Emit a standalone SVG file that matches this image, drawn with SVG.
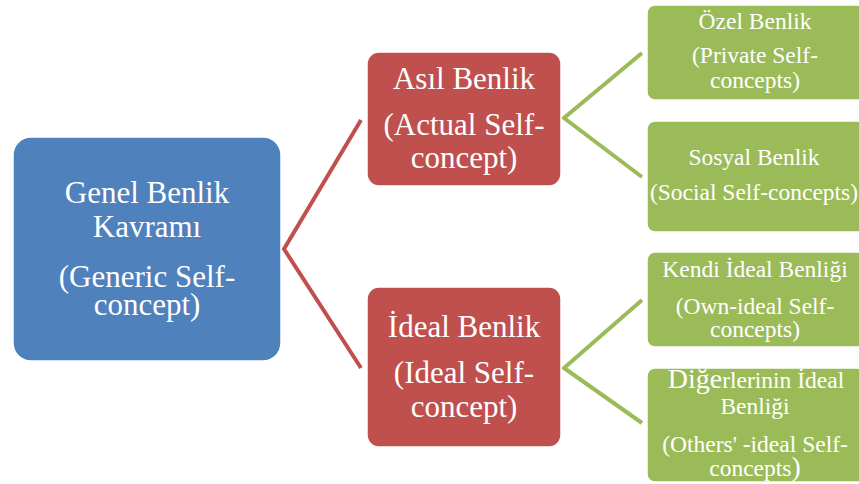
<svg xmlns="http://www.w3.org/2000/svg" width="859" height="484" viewBox="0 0 859 484">
<style>
.blue{fill:#4F81BD;stroke:#fff;stroke-width:1.5}
.red{fill:#C0504D;stroke:#fff;stroke-width:1.5}
.green{fill:#9BBB59;stroke:#fff;stroke-width:1.5}
.lbl{font-family:'Liberation Serif','Times New Roman','DejaVu Serif',serif;fill:#fff;text-anchor:middle}
.t1{font-size:31px}
.t2{font-size:31px}
.t3{font-size:23.5px}
.rc{fill:none;stroke:#C0504D;stroke-width:4}
.gc{fill:none;stroke:#9BBB59;stroke-width:4}
</style>
<rect width="859" height="484" fill="#fff"/>
<g id="connectors">
<polyline class="rc" points="361,120 284,249 361,368"/>
<polyline class="gc" points="642,53 564,118 642,177"/>
<polyline class="gc" points="642,300 564,368 642,423"/>
</g>
<g id="generic" class="lbl">
<rect class="blue" x="13" y="137" width="268" height="224" rx="18"/>
<text class="t1" x="147" y="203">Genel Benlik</text>
<text class="t1" x="147" y="237">Kavramı</text>
<text class="t1" x="147" y="287">(Generic Self-</text>
<text class="t1" x="147" y="315">concept)</text>
</g>
<g id="actual" class="lbl">
<rect class="red" x="367" y="52" width="194" height="134" rx="12"/>
<text class="t2" x="464" y="89">Asıl Benlik</text>
<text class="t2" x="464" y="135">(Actual Self-</text>
<text class="t2" x="464" y="168">concept)</text>
</g>
<g id="ideal" class="lbl">
<rect class="red" x="367" y="287" width="194" height="160" rx="12"/>
<text class="t2" x="464" y="337">İdeal Benlik</text>
<text class="t2" x="464" y="383">(Ideal Self-</text>
<text class="t2" x="464" y="417">concept)</text>
</g>
<g id="private" class="lbl">
<rect class="green" x="647" y="5" width="218" height="95" rx="8"/>
<text class="t3" x="755" y="29">Özel Benlik</text>
<text class="t3" x="755" y="63">(Private Self-</text>
<text class="t3" x="755" y="88">concepts)</text>
</g>
<g id="social" class="lbl">
<rect class="green" x="647" y="121" width="218" height="111" rx="8"/>
<text class="t3" x="754" y="165">Sosyal Benlik</text>
<text class="t3" x="754" y="200">(Social Self-concepts)</text>
</g>
<g id="own-ideal" class="lbl">
<rect class="green" x="647" y="252" width="218" height="95" rx="8"/>
<text class="t3" x="755" y="277">Kendi İdeal Benliği</text>
<text class="t3" x="755" y="314">(Own-ideal Self-</text>
<text class="t3" x="755" y="337">concepts)</text>
</g>
<g id="others-ideal" class="lbl">
<rect class="green" x="647" y="368" width="218" height="114" rx="8"/>
<text class="t3" x="756" y="388"><tspan font-size="28px">Diğe</tspan>rlerinin İdeal</text>
<text class="t3" x="755" y="414">Benliği</text>
<text class="t3" x="755" y="452">(Others' -ideal Self-</text>
<text class="t3" x="755" y="476">concepts<tspan font-size="28px">)</tspan></text>
</g>
</svg>
